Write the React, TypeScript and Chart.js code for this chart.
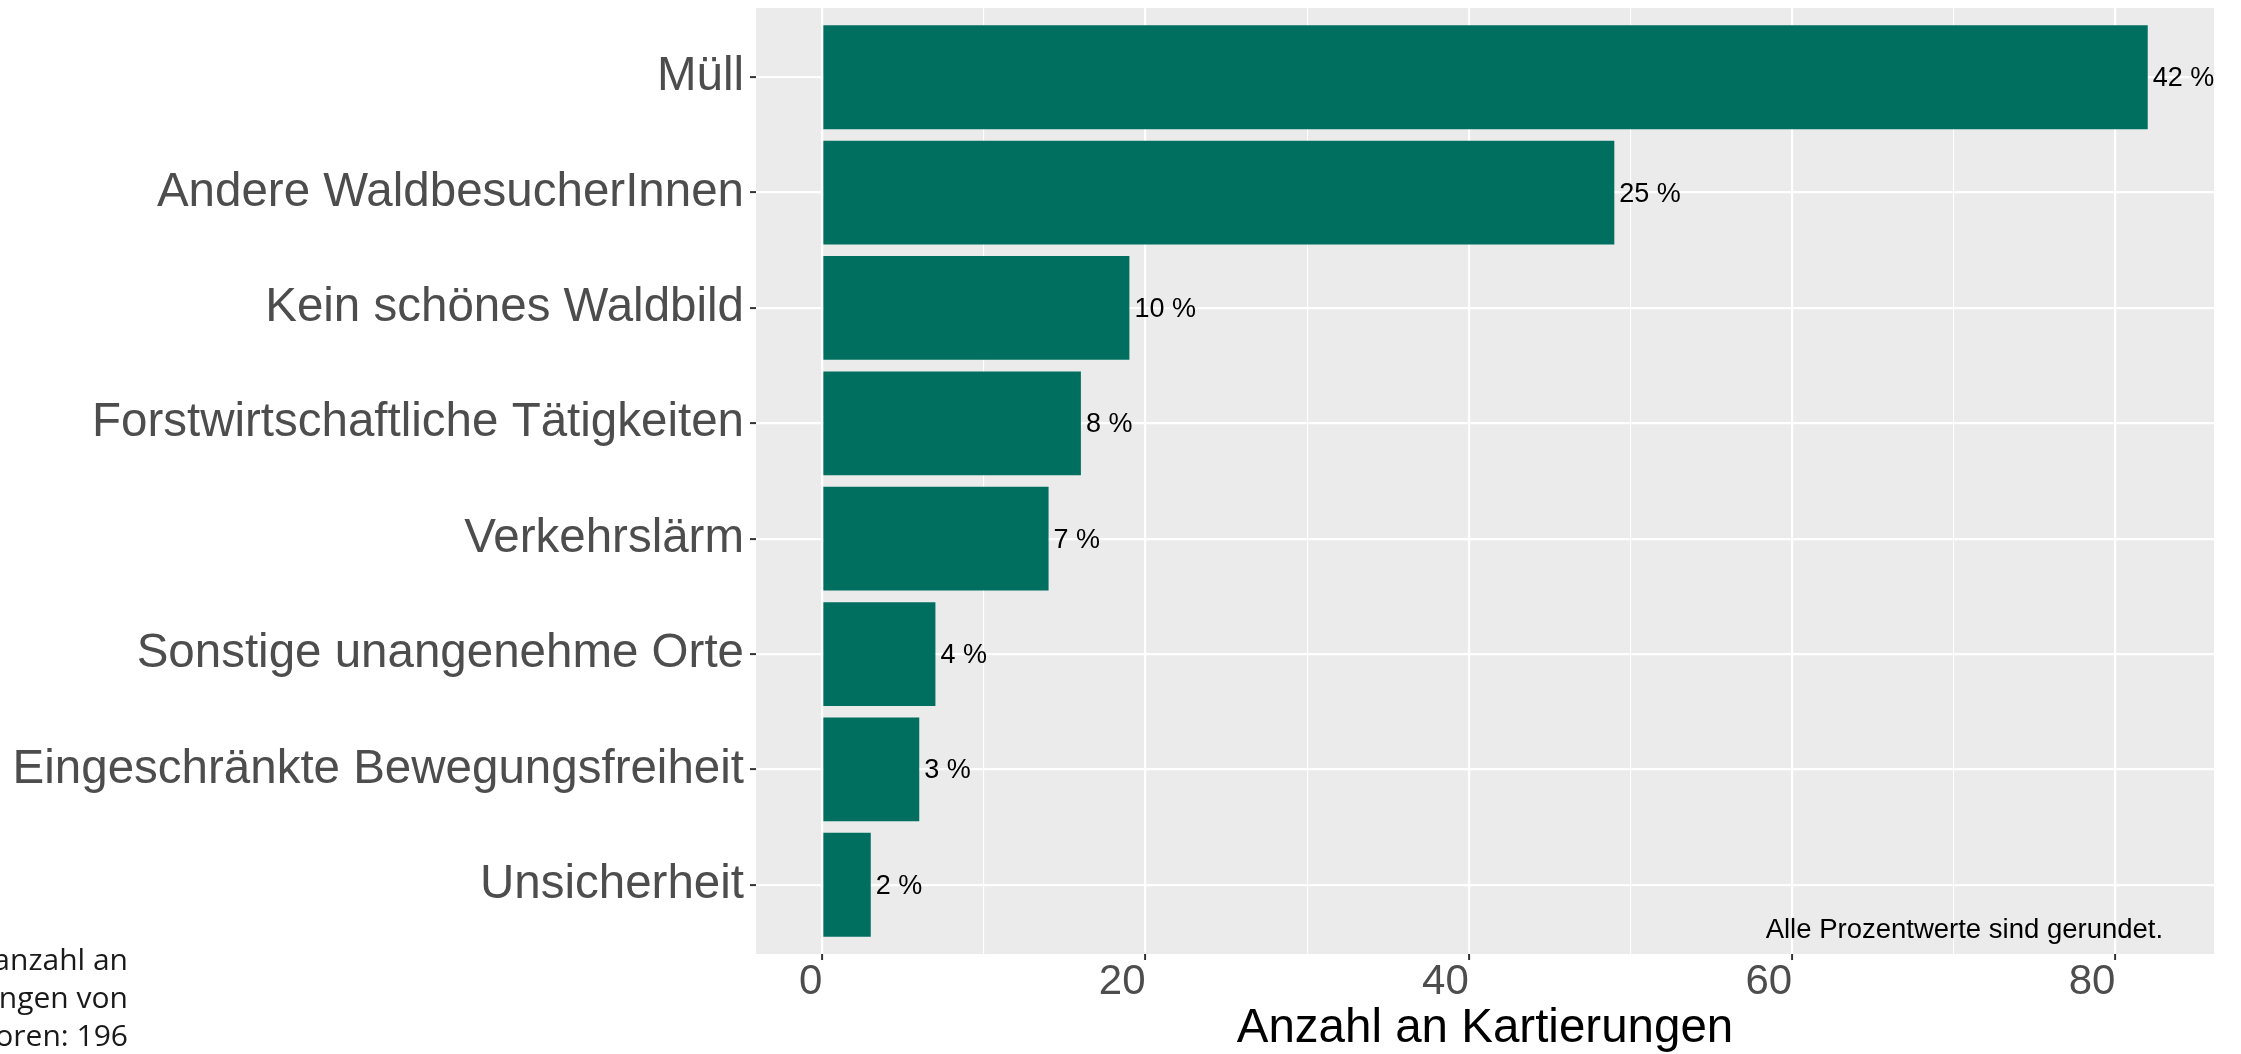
import { useEffect, useRef } from 'react';
import { Chart, registerables } from 'chart.js';

Chart.register(...registerables);

const categories = [
  'Müll',
  'Andere WaldbesucherInnen',
  'Kein schönes Waldbild',
  'Forstwirtschaftliche Tätigkeiten',
  'Verkehrslärm',
  'Sonstige unangenehme Orte',
  'Eingeschränkte Bewegungsfreiheit',
  'Unsicherheit',
];
const counts = [82, 49, 19, 16, 14, 7, 6, 3];
const percentLabels = ['42 %', '25 %', '10 %', '8 %', '7 %', '4 %', '3 %', '2 %'];
const xTickValues = [0, 10, 20, 30, 40, 50, 60, 70, 80];
const xMajorTicks = [0, 20, 40, 60, 80];
const xTitle = 'Anzahl an Kartierungen';
const noteText = 'Alle Prozentwerte sind gerundet.';
const noteX = 82.95;
const noteY = 8.457;
const footnoteLines = ['Gesamtanzahl an', 'Kartierungen von', 'Störfaktoren: 196'];

const W = 2241;
const H = 1054;
const FONT = '"Liberation Sans", Arial, sans-serif';
const BAR_COLOR = '#006F5F';

export default function App() {
  const canvasRef = useRef<HTMLCanvasElement | null>(null);

  useEffect(() => {
    const canvas = canvasRef.current;
    if (!canvas) return;

    const panelBg = {
      id: 'panelBg',
      beforeDraw(chart: any) {
        const { ctx, chartArea } = chart;
        ctx.save();
        ctx.fillStyle = '#FFFFFF';
        ctx.fillRect(0, 0, chart.width, chart.height);
        ctx.fillStyle = '#EBEBEB';
        ctx.fillRect(chartArea.left, chartArea.top, chartArea.right - chartArea.left, chartArea.bottom - chartArea.top);
        ctx.restore();
      },
    };

    const labelsPlugin = {
      id: 'valueLabels',
      afterDatasetsDraw(chart: any) {
        const { ctx } = chart;
        const meta = chart.getDatasetMeta(0);
        ctx.save();
        ctx.font = `27px ${FONT}`;
        ctx.fillStyle = '#000000';
        ctx.textAlign = 'left';
        ctx.textBaseline = 'middle';
        meta.data.forEach((bar: any, i: number) => {
          ctx.fillText(percentLabels[i], bar.x + 5, bar.y + 1.5);
        });
        const xs = chart.scales.x;
        const ys = chart.scales.y;
        ctx.font = `27.5px ${FONT}`;
        ctx.textAlign = 'right';
        ctx.textBaseline = 'alphabetic';
        ctx.fillText(noteText, xs.getPixelForValue(noteX), ys.getPixelForValue(noteY));
        ctx.restore();
      },
    };

    const chart = new Chart(canvas, {
      type: 'bar',
      data: {
        datasets: [
          {
            data: counts.map((v, i) => ({ x: v, y: i + 1 })),
            backgroundColor: BAR_COLOR,
            borderWidth: 0,
            barPercentage: 0.9,
            categoryPercentage: 1,
          },
        ],
      },
      options: {
        responsive: false,
        animation: false,
        indexAxis: 'y',
        layout: { padding: { top: 8, right: 27, left: 0, bottom: 0 } },
        plugins: {
          legend: { display: false },
          tooltip: { enabled: false },
        },
        scales: {
          x: {
            type: 'linear',
            position: 'bottom',
            min: -4.1,
            max: 86.1,
            offset: false,
            afterBuildTicks: (s: any) => {
              s.ticks = xTickValues.map((v) => ({ value: v }));
            },
            afterFit: (s: any) => {
              s.height = 100;
              s.paddingLeft = 0;
              s.paddingRight = 0;
            },
            border: { display: false },
            grid: {
              offset: false,
              color: '#FFFFFF',
              lineWidth: (ctx: any) => (ctx.tick && xMajorTicks.includes(ctx.tick.value) ? 2.2 : 1.1),
              drawTicks: true,
              tickLength: 6,
              tickWidth: 2,
              tickColor: (ctx: any) =>
                ctx.tick && xMajorTicks.includes(ctx.tick.value) ? '#333333' : 'rgba(0,0,0,0)',
            },
            ticks: {
              autoSkip: false,
              maxRotation: 0,
              align: 'end',
              padding: 1,
              color: '#4D4D4D',
              font: { family: FONT, size: 42, lineHeight: 1 },
              callback: (v: any) => (xMajorTicks.includes(Number(v)) ? String(v) : ''),
            },
            title: {
              display: true,
              text: xTitle,
              color: '#000000',
              font: { family: FONT, size: 47.5, lineHeight: 1 },
              padding: { top: 0, bottom: 1.5 },
            },
          },
          y: {
            type: 'linear',
            min: 0.4,
            max: 8.6,
            reverse: true,
            offset: false,
            afterBuildTicks: (s: any) => {
              s.ticks = categories.map((_, i) => ({ value: i + 1 }));
            },
            afterFit: (s: any) => {
              s.width = 756;
              s.paddingTop = 0;
              s.paddingBottom = 0;
            },
            border: { display: false },
            grid: {
              offset: false,
              color: '#FFFFFF',
              lineWidth: 2.2,
              drawTicks: true,
              tickLength: 6,
              tickWidth: 2,
              tickColor: '#333333',
            },
            ticks: {
              autoSkip: false,
              padding: 6,
              color: '#4D4D4D',
              font: { family: FONT, size: 47.5, lineHeight: 1 },
              callback: (v: any) => categories[Number(v) - 1] ?? '',
            },
          },
        },
      },
      plugins: [panelBg, labelsPlugin],
    } as any);

    return () => {
      chart.destroy();
    };
  }, []);

  return (
    <div style={{ position: 'fixed', left: 0, top: 0, width: W, height: H, overflow: 'hidden', background: '#fff' }}>
      <canvas ref={canvasRef} width={W} height={H} style={{ position: 'absolute', left: 0, top: 0, width: W, height: H }} />
      <div
        style={{
          position: 'absolute',
          left: -372,
          top: 940,
          width: 500,
          textAlign: 'right',
          fontFamily: '"Open Sans", "Noto Sans", sans-serif',
          fontSize: 30,
          lineHeight: '38px',
          color: '#1A1A1A',
          whiteSpace: 'nowrap',
        }}
      >
        {footnoteLines.map((l) => (
          <div key={l}>{l}</div>
        ))}
      </div>
    </div>
  );
}
